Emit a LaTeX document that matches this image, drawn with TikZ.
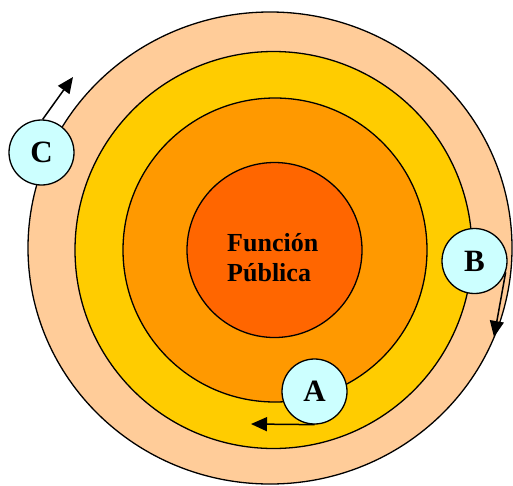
\documentclass[tikz,border=0pt]{standalone}
\usepackage{fontspec}
\setmainfont{Liberation Serif}
\usetikzlibrary{shapes.geometric,arrows.meta}
\definecolor{ringpeach}{HTML}{FFCC99}
\definecolor{ringyellow}{HTML}{FFCC00}
\definecolor{ringorange}{HTML}{FF9900}
\definecolor{corered}{HTML}{FF6600}
\definecolor{markercyan}{HTML}{CCFFFF}
\tikzset{
  ring/.style={circle, draw=black, line width=1.3pt, inner sep=0pt},
  marker/.style={circle, draw=black, line width=1.3pt, fill=markercyan,
    minimum size=65pt, inner sep=0pt, font=\fontsize{31}{34}\selectfont\bfseries},
  move/.style={line width=1.5pt, -{Triangle[length=16pt,width=14pt]}}
}
\begin{document}
\begin{tikzpicture}[x=1pt,y=-1pt]
  \useasboundingbox (0,0) rectangle (513,485);
  % concentric rings, outermost first
  \node[ellipse, draw=black, line width=1.3pt, fill=ringpeach, inner sep=0pt,
        minimum width=484pt, minimum height=472pt] (outer) at (270,248) {};
  \node[ring, fill=ringyellow, minimum size=397pt] (middle) at (273.5,250) {};
  \node[ring, fill=ringorange, minimum size=304pt] (inner) at (275,250) {};
  \node[ring, fill=corered, minimum size=175pt] (core) at (274.5,250) {};
  % centre label
  \node[anchor=west, align=left, inner sep=0pt,
        font=\fontsize{26}{30}\selectfont\bfseries] (fp) at (227,258)
        {Función\\Pública};
  % position markers
  \node[marker] (C) at (41.5,152.5) {C};
  \node[marker] (B) at (474.5,261) {B};
  \node[marker] (A) at (314.5,391.5) {A};
  % directions of movement
  \coordinate (cEnd) at (73,77);
  \coordinate (bEnd) at (494,337);
  \coordinate (aEnd) at (251,424);
  \draw[move] (C.88) -- (cEnd);
  \draw[move] (B.-20) -- (bEnd);
  \draw[move] (A.south) -- (aEnd);
\end{tikzpicture}
\end{document}
